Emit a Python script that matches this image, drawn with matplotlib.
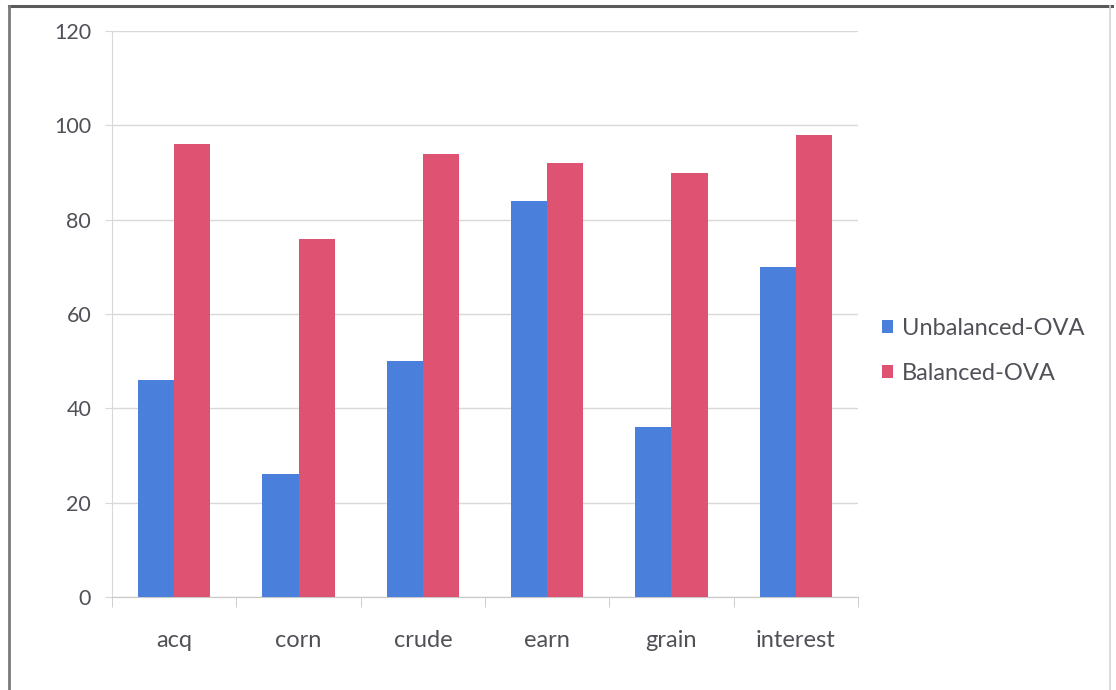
import matplotlib
matplotlib.use("Agg")
import matplotlib.pyplot as plt
import numpy as np
from matplotlib.lines import Line2D

categories = ["acq", "corn", "crude", "earn", "grain", "interest"]
unbalanced = [46, 26, 50, 84, 36, 70]
balanced = [96, 76, 94, 92, 90, 98]
series_names = ["Unbalanced-OVA", "Balanced-OVA"]
yticks = [0, 20, 40, 60, 80, 100, 120]

blue = "#4a7fdb"
red = "#de5272"
text_col = "#505058"
grid_col = "#d8d8d8"

plt.rcParams["font.family"] = ["Lato", "DejaVu Sans"]

fig = plt.figure(figsize=(11.16, 6.9), dpi=100)
fig.patch.set_facecolor("white")
ax = fig.add_axes([112 / 1116, 1 - 597 / 690, (858 - 112) / 1116, (597 - 31) / 690])

x = np.arange(len(categories))
w = 0.29
ax.bar(x - w / 2, unbalanced, width=w, color=blue, label=series_names[0], zorder=3)
ax.bar(x + w / 2, balanced, width=w, color=red, label=series_names[1], zorder=3)

ax.set_xlim(-0.5, len(categories) - 0.5)
ax.set_ylim(0, 120)
ax.set_yticks(yticks)
ax.set_yticklabels([str(v) for v in yticks])
ax.yaxis.grid(True, color=grid_col, linewidth=1, zorder=0)
ax.set_axisbelow(True)

for side in ["top", "right"]:
    ax.spines[side].set_visible(False)
ax.spines["left"].set_color(grid_col)
ax.spines["bottom"].set_color("#c8c8c8")

# category labels centred, tick marks at category boundaries
ax.set_xticks(x)
ax.set_xticklabels(categories)
ax.tick_params(axis="x", length=0, pad=24, labelsize=17, labelcolor=text_col)
ax.set_xticks(np.arange(-0.5, len(categories)), minor=True)
ax.tick_params(axis="x", which="minor", length=7, color="#c8c8c8", direction="out")
ax.tick_params(axis="y", length=5, color=grid_col, pad=10, labelsize=15.5, labelcolor=text_col)

leg = fig.legend(loc="upper left", bbox_to_anchor=(861 / 1116, 1 - 297 / 690),
                 frameon=False, fontsize=17, handlelength=0.45, handleheight=0.45,
                 handletextpad=0.4, labelspacing=1.0)
for t in leg.get_texts():
    t.set_color(text_col)

# chart frame: dark top and left edges, faint right edge
fig.add_artist(Line2D([9 / 1116, 1112 / 1116], [1 - 6 / 690, 1 - 6 / 690],
                      transform=fig.transFigure, color="#5a5a5a", linewidth=2.2))
fig.add_artist(Line2D([9 / 1116, 9 / 1116], [0, 1 - 6 / 690],
                      transform=fig.transFigure, color="#7a7a7a", linewidth=2.0))
fig.add_artist(Line2D([1110 / 1116, 1110 / 1116], [0, 1 - 6 / 690],
                      transform=fig.transFigure, color="#d4d4d4", linewidth=1.2))

fig.savefig("out.png", dpi=100, facecolor="white")
